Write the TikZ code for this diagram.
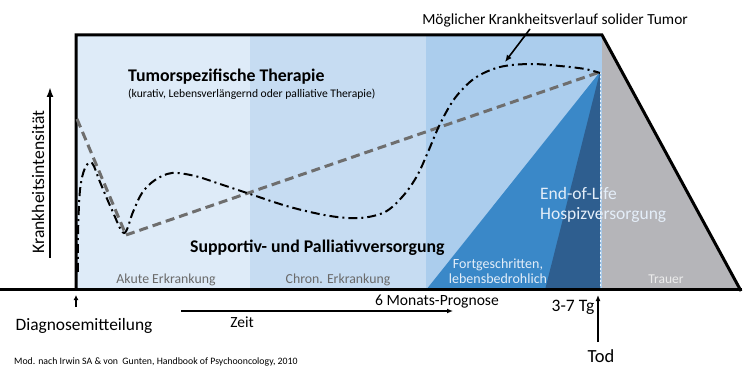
\documentclass[tikz,border=0pt]{standalone}
\usepackage{fontspec}
\setmainfont{Carlito}
\usetikzlibrary{arrows.meta}
\definecolor{regA}{HTML}{DEEBF8}
\definecolor{regB}{HTML}{C6DCF2}
\definecolor{regC}{HTML}{ABCDED}
\definecolor{midblue}{HTML}{3A88C8}
\definecolor{darkblue}{HTML}{2E5E8F}
\definecolor{mourn}{HTML}{B5B5B9}
\definecolor{dashgray}{HTML}{6E6E6E}
\definecolor{phasegray}{HTML}{6A6A6A}
\definecolor{lighttxt}{HTML}{E4EEF9}
\tikzset{
  frameline/.style={line width=3pt, line join=miter},
  lbl/.style={inner sep=0pt, anchor=center},
  phase/.style={lbl, font=\fontsize{13.8}{16}\selectfont, text=phasegray},
  bigbold/.style={lbl, font=\fontsize{17.8}{20}\selectfont\bfseries},
  axisarrow/.style={line width=2.6pt, -{Latex[length=10pt,width=7pt]}},
  thinarrow/.style={line width=1.6pt, -{Latex[length=7pt,width=6pt]}},
  trend/.style={dashgray, line width=3pt, dash pattern=on 9pt off 5pt},
  course/.style={black, line width=2pt, dash pattern=on 9pt off 4pt on 2pt off 4pt},
}
\begin{document}
\begin{tikzpicture}[x=1pt, y=-1pt]
\useasboundingbox (0,0) rectangle (750,382);
% phase regions
\fill[regA] (77,36) rectangle (250,290);
\fill[regB] (250,36) rectangle (426,290);
\fill[regC] (426,36) rectangle (602,290);
\fill[mourn] (602,36) -- (741,290) -- (602,290) -- cycle;
\fill[midblue] (426,290) -- (600,72) -- (600,290) -- cycle;
\fill[darkblue] (545,290) -- (600,72) -- (600,290) -- cycle;
\draw[white!80!regC, line width=0.6pt, dash pattern=on 2pt off 2pt] (600.5,72) -- (600.5,290);
% frame
\draw[frameline] (76,291) -- (76,35) -- (602,35) -- (741,291);
\draw[line width=3pt] (0,290) -- (742,290);
% trend line
\draw[trend] (77,119) -- (126,235) -- (600,72);
% disease course
\draw[course] plot[smooth, tension=0.55] coordinates {
 (78,272) (78,235) (80,190) (85,168) (92,163) (100,182) (112,210) (124,233)
 (133,212) (142,193) (155,180) (172,173) (195,176) (220,184) (250,194)
 (290,207) (330,216) (360,218) (385,212) (403,196) (417,176) (428,152)
 (440,124) (455,98) (475,78) (500,67) (530,64) (560,66) (585,69) (600,73)};
% texts in chart
\node[bigbold, anchor=west] (tst) at (128,77) {Tumorspezifische Therapie};
\node[lbl, anchor=west, font=\fontsize{11.6}{13}\selectfont] (tsub) at (128,94) {(kurativ, Lebensverlängernd oder palliative Therapie)};
\node[bigbold, anchor=west] (spv) at (190,248) {Supportiv- und Palliativversorgung};
\node[phase] (acute) at (166,280) {Akute Erkrankung};
\node[phase] (chron) at (338,280) {Chron. Erkrankung};
\node[phase, text=lighttxt, align=center, font=\fontsize{14}{15.5}\selectfont] (adv) at (498,271) {Fortgeschritten,\\lebensbedrohlich};
\node[lbl, anchor=west, text=lighttxt, align=left, font=\fontsize{17.5}{20}\selectfont] (eol) at (540,205) {End-of-Life\\Hospizversorgung};
\node[phase, text=white!92!black, font=\fontsize{13.5}{16}\selectfont] (mournlbl) at (666,279) {Trauer};
% top label and arrow
\node[lbl, font=\fontsize{15.4}{18}\selectfont] (tumor) at (555,20) {Möglicher Krankheitsverlauf solider Tumor};
\coordinate (tumortip) at (505,62);
\draw[thinarrow] (530,29) -- (tumortip);
% y axis
\coordinate (ybot) at (50,258);
\coordinate (ytop) at (50,87);
\draw[axisarrow] (ybot) -- (ytop);
\node[lbl, rotate=90, font=\fontsize{17.6}{20}\selectfont] (ylab) at (38,182) {Krankheitsintensität};
% diagnosis
\coordinate (diagbot) at (76,307);
\coordinate (diagtop) at (76,295);
\draw[line width=1.5pt, -{Latex[length=5pt,width=5pt]}] (diagbot) -- (diagtop);
\node[lbl, font=\fontsize{17.4}{20}\selectfont] (diag) at (84,326) {Diagnosemitteilung};
% time axis
\coordinate (tstart) at (181,311);
\coordinate (tend) at (453,311);
\draw[line width=1.4pt, -{Latex[length=6pt,width=5pt]}] (tstart) -- (tend);
\node[lbl, font=\fontsize{15.5}{18}\selectfont] (zeit) at (242,322) {Zeit};
\node[lbl, font=\fontsize{15.6}{18}\selectfont] (prog) at (437,302) {6 Monats-Prognose};
\node[lbl, font=\fontsize{17.5}{20}\selectfont] (days) at (573,307) {3-7 Tg};
% death
\coordinate (todbot) at (598,342);
\coordinate (todtop) at (598,295);
\draw[line width=1.6pt, -{Latex[length=6pt,width=5pt]}] (todbot) -- (todtop);
\node[lbl, font=\fontsize{18.5}{21}\selectfont] (tod) at (601,356) {Tod};
% citation
\node[lbl, anchor=west, font=\fontsize{9.8}{12}\selectfont] (cite) at (14,362) {Mod. nach Irwin SA \& von~ Gunten, Handbook of Psychooncology, 2010};
\end{tikzpicture}
\end{document}
